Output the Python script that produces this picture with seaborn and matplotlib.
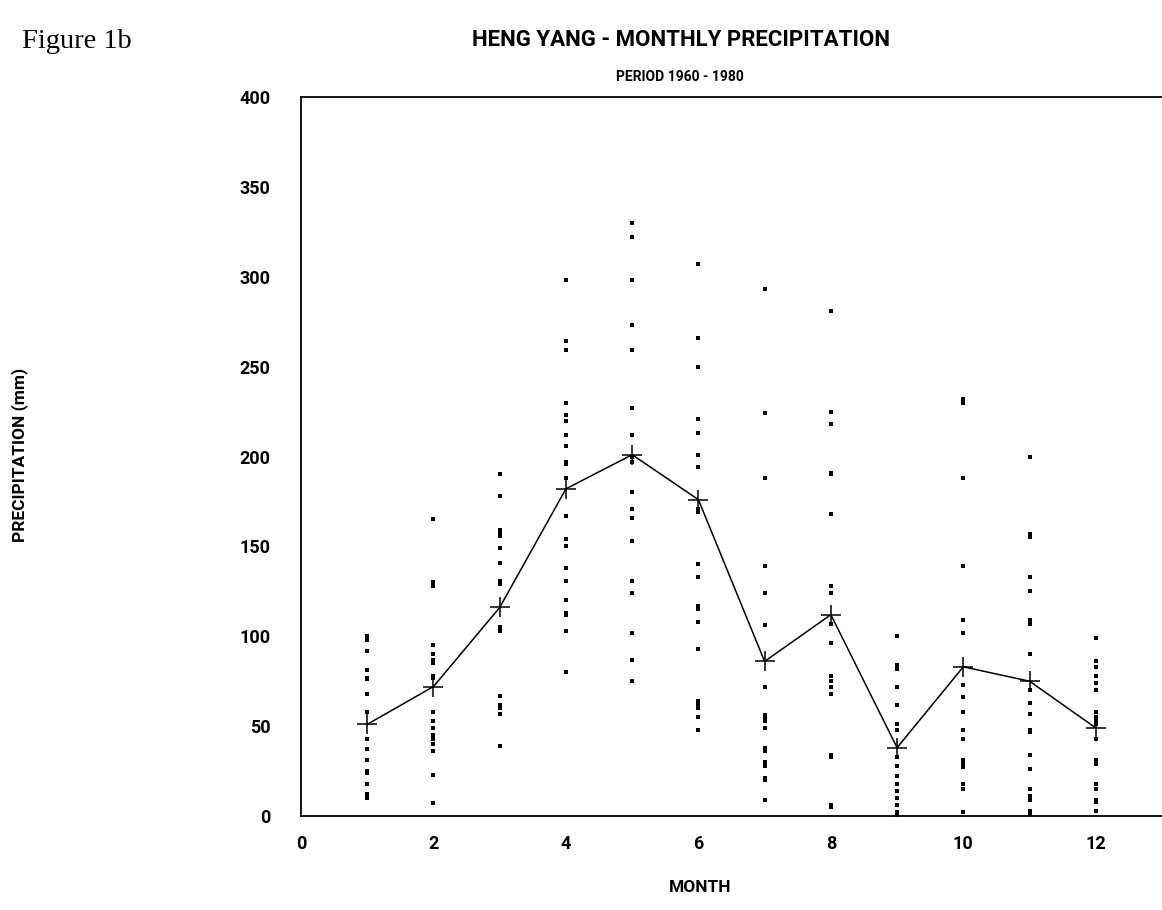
import matplotlib
matplotlib.use("Agg")
import matplotlib.pyplot as plt
import seaborn as sns
import pandas as pd
import numpy as np

# ---- data ----
months = [1, 2, 3, 4, 5, 6, 7, 8, 9, 10, 11, 12]
p_jan = [100, 98, 92, 81, 77, 76, 68, 58, 43, 37, 31, 25, 24, 18, 12, 10]
p_feb = [165, 130, 128, 95, 90, 87, 85, 78, 77, 58, 53, 49, 45, 43, 40, 36, 23, 7]
p_mar = [190, 178, 159, 158, 156, 149, 141, 131, 129, 105, 103, 67, 62, 60, 57, 39]
p_apr = [298, 264, 259, 230, 223, 220, 212, 206, 197, 196, 188, 167, 154, 150, 138,
         131, 120, 113, 112, 103, 80]
p_may = [330, 322, 298, 273, 259, 227, 212, 200, 197, 180, 171, 166, 153, 131, 124,
         102, 87, 75]
p_jun = [307, 266, 250, 221, 213, 201, 194, 171, 169, 140, 133, 117, 115, 108, 93,
         64, 62, 60, 55, 48]
p_jul = [293, 224, 188, 139, 124, 106, 72, 56, 54, 53, 49, 38, 36, 30, 28, 21, 20, 9]
p_aug = [281, 225, 218, 191, 190, 168, 128, 124, 107, 96, 78, 75, 72, 68, 34, 33, 6, 5]
p_sep = [100, 84, 82, 72, 62, 51, 48, 33, 28, 22, 18, 14, 10, 6, 2, 0]
p_oct = [232, 230, 188, 139, 109, 102, 73, 66, 58, 48, 43, 31, 29, 27, 18, 15, 2]
p_nov = [200, 157, 155, 133, 125, 109, 107, 90, 70, 63, 57, 48, 47, 34, 26, 15, 11,
         9, 3, 1]
p_dec = [99, 86, 83, 78, 74, 70, 58, 55, 53, 51, 43, 31, 29, 18, 15, 9, 8, 3]
monthly_mean = [51, 72, 116, 182, 201, 176, 86, 112, 38, 83, 75, 49]

x_ticks = [0, 1, 2, 3, 4, 5, 6, 7, 8, 9, 10, 11, 12]
x_tick_labels = ["0", "", "2", "", "4", "", "6", "", "8", "", "10", "", "12"]
y_ticks = [0, 50, 100, 150, 200, 250, 300, 350, 400]

title = "HENG YANG - MONTHLY PRECIPITATION"
subtitle = "PERIOD 1960 - 1980"
fig_label = "Figure 1b"
x_label = "MONTH"
y_label = "PRECIPITATION (mm)"

# ---- build tables ----
all_obs = [p_jan, p_feb, p_mar, p_apr, p_may, p_jun, p_jul, p_aug, p_sep, p_oct,
           p_nov, p_dec]
obs = pd.DataFrame({
    "month": [m for m, vals in zip(months, all_obs) for _ in vals],
    "precip": [v for vals in all_obs for v in vals],
})
means = pd.DataFrame({"month": months, "precip": monthly_mean})

sns.set_theme(style="white")
plt.rcParams["font.family"] = ["Roboto", "DejaVu Sans"]
plt.rcParams["text.color"] = "black"
plt.rcParams["xtick.color"] = "black"
plt.rcParams["ytick.color"] = "black"
plt.rcParams["axes.labelcolor"] = "black"

fig = plt.figure(figsize=(11.62, 9.10), dpi=100)
ax = fig.add_axes([301 / 1162, 94 / 910, 861 / 1162, 719 / 910])

sns.scatterplot(data=obs, x="month", y="precip", ax=ax, color="black", s=9,
                linewidth=0, marker="s", zorder=3)
sns.lineplot(data=means, x="month", y="precip", ax=ax, color="black", lw=1.1,
             marker="+", markersize=14, markeredgewidth=1.1, markeredgecolor="black",
             zorder=4)

ax.set_xlim(0, 13)
ax.set_ylim(0, 400)
ax.set_xticks(x_ticks)
ax.set_xticklabels(x_tick_labels)
ax.set_yticks(y_ticks)
for lab in ax.get_xticklabels() + ax.get_yticklabels():
    lab.set_fontweight("bold")
    lab.set_fontsize(13)
ax.tick_params(axis="x", direction="out", length=9, width=1, color="black", pad=5)
ax.tick_params(axis="y", length=0, pad=22)

for side in ["left", "bottom", "top"]:
    ax.spines[side].set_visible(True)
    ax.spines[side].set_color("black")
    ax.spines[side].set_linewidth(1.3)
ax.spines["right"].set_visible(False)

ax.set_xlabel("")
ax.set_ylabel("")
fig.text(700 / 1162, 1 - 888 / 910, x_label, ha="center", va="center",
         fontsize=12.5, fontweight="bold")
fig.text(20 / 1162, 1 - 455 / 910, y_label, ha="center", va="center",
         rotation=90, fontsize=12.5, fontweight="bold")

fig.text(681 / 1162, 1 - 40 / 910, title, ha="center", va="center",
         fontsize=16, fontweight="bold")
fig.text(680 / 1162, 1 - 77 / 910, subtitle, ha="center", va="center",
         fontsize=10, fontweight="bold")
fig.text(22 / 1162, 1 - 42 / 910, fig_label, ha="left", va="center",
         fontsize=20.5, family=["Liberation Serif", "DejaVu Serif"])

fig.savefig("out.png", dpi=100)
